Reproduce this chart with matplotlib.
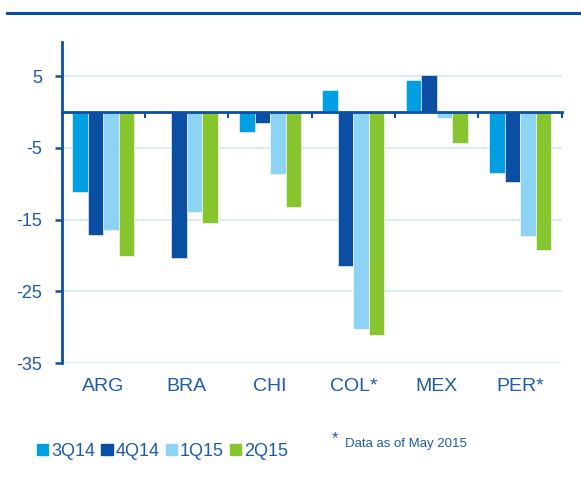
import matplotlib.pyplot as plt
import matplotlib.patches as mpatches
import numpy as np

plt.rcParams['font.family'] = ['Liberation Sans', 'DejaVu Sans']

# data
countries = ['ARG', 'BRA', 'CHI', 'COL*', 'MEX', 'PER*']
series = ['3Q14', '4Q14', '1Q15', '2Q15']
q3_14 = [-11.2, 0.1, -2.8, 3.1, 4.4, -8.5]
q4_14 = [-17.1, -20.4, -1.6, -21.4, 5.2, -9.7]
q1_15 = [-16.5, -14.0, -8.7, -30.2, -0.8, -17.3]
q2_15 = [-20.1, -15.5, -13.2, -31.1, -4.3, -19.2]
values = [q3_14, q4_14, q1_15, q2_15]
colors = ['#009FE3', '#0A4FA3', '#8DD3F3', '#86C52E']
yticks = [5, -5, -15, -25, -35]

dark = '#0A4FA3'
txt = '#1D5BAA'

fig = plt.figure(figsize=(5.81, 4.78), dpi=100)
ax = fig.add_axes([0.106, 0.240, 0.861, 0.673])

x = np.arange(len(countries))
w = 0.186
for i, vals in enumerate(values):
    ax.bar(x + (i - 1.5) * w, vals, w, color=colors[i], edgecolor='white',
           linewidth=0.4, zorder=3, label=series[i])

ax.set_xlim(-0.5, len(countries) - 0.5)
ax.set_ylim(-35, 9.8)
ax.set_yticks(yticks)
ax.set_yticklabels([str(t) for t in yticks], fontsize=13, color=txt)
ax.yaxis.grid(True, color='#CFEAF8', linewidth=1.2, zorder=0)
ax.tick_params(axis='y', direction='out', length=5, width=1.8, color=dark, pad=9)

for s in ['top', 'right']:
    ax.spines[s].set_visible(False)
ax.spines['left'].set_color(dark)
ax.spines['left'].set_linewidth(2)
ax.spines['bottom'].set_position(('data', 0))
ax.spines['bottom'].set_color(dark)
ax.spines['bottom'].set_linewidth(2)
ax.spines['bottom'].set_zorder(4)

# boundary ticks on the zero line, labels under the plot
ax.set_xticks(np.arange(len(countries)) + 0.5)
ax.set_xticklabels([])
ax.tick_params(axis='x', direction='out', length=4, width=1.5, color=dark)
for xi, c in zip(x, countries):
    ax.text(xi, -0.072, c, transform=ax.get_xaxis_transform(), ha='center',
            va='center', fontsize=14, color=txt)

# line under the (cut-off) title
fig.add_artist(plt.Line2D([0.012, 1.0], [0.972, 0.972], color=dark, lw=2.2,
                          transform=fig.transFigure))

handles = [mpatches.Patch(color=c, label=s) for c, s in zip(colors, series)]
leg = fig.legend(handles=handles, loc='center left', bbox_to_anchor=(0.064, 0.056),
                 ncol=4, frameon=False, fontsize=13, handlelength=0.62,
                 handleheight=0.62, handletextpad=0.15, columnspacing=0.35,
                 borderaxespad=0, borderpad=0)
for t in leg.get_texts():
    t.set_color(txt)

fig.text(0.571, 0.083, '*', fontsize=12, color=txt, ha='left', va='center')
fig.text(0.594, 0.071, 'Data as of May 2015', fontsize=9.5, color=txt,
         ha='left', va='center')

fig.savefig('out.png', dpi=100)
